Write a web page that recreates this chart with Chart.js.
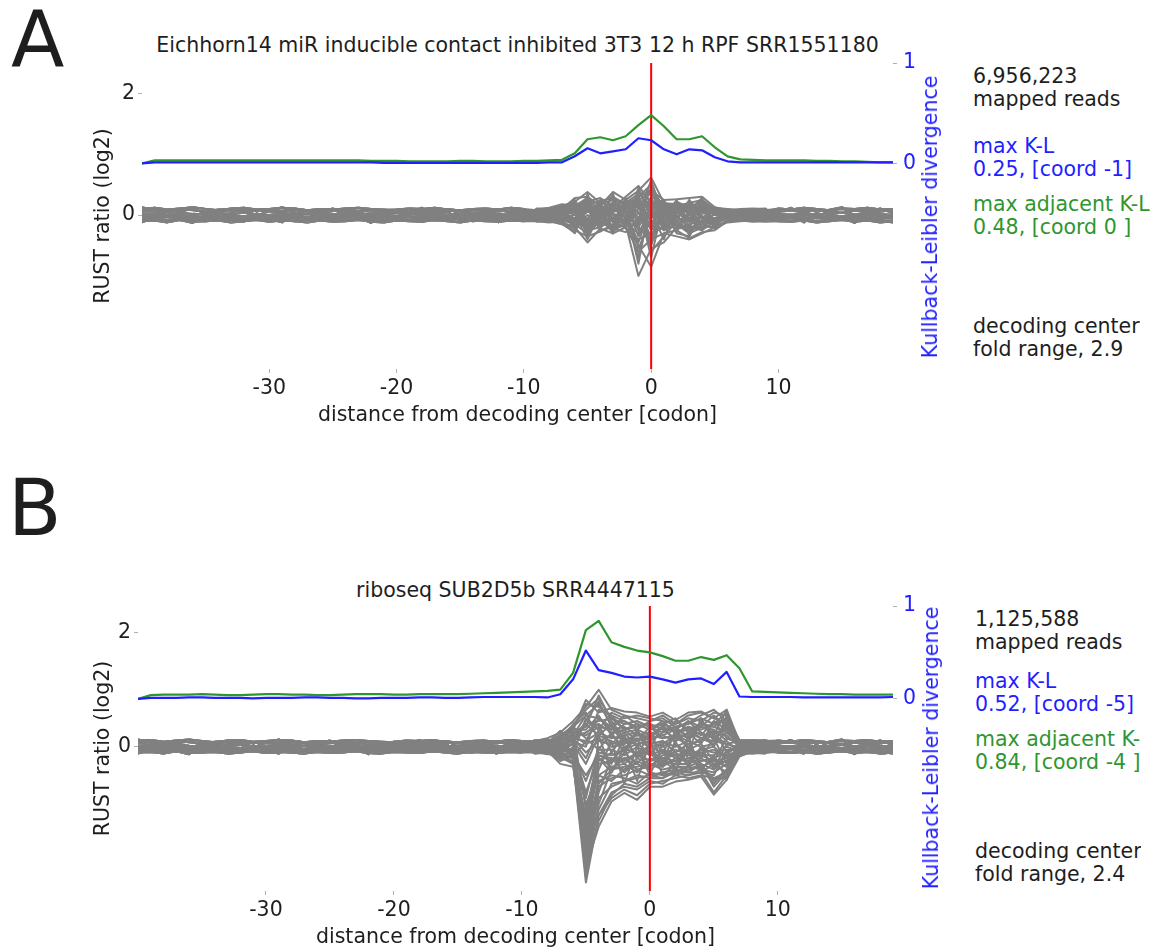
<!DOCTYPE html>
<html>
<head>
<meta charset="utf-8">
<script src="https://cdn.jsdelivr.net/npm/chart.js"></script>
<style>
  body { margin: 0; width: 1156px; height: 947px; overflow: hidden; background: #fff; font-family: "DejaVu Sans", sans-serif; color: #1e1e1e; }
  canvas { position: absolute; left: 0; }
  .tag { position: absolute; font-size: 78px; line-height: 78px; }
  .title { position: absolute; font-size: 20.5px; line-height: 24px; text-align: center; white-space: nowrap; }
  .kl-title { position: absolute; font-size: 20.5px; line-height: 24px; color: #1f1fff; white-space: nowrap; transform: translate(-50%, -50%) rotate(-90deg); }
  .side { position: absolute; font-size: 20.5px; line-height: 23px; white-space: pre; overflow: hidden; }
  .blue { color: #1f1fff; }
  .green { color: #2f962f; }
</style>
</head>
<body>

<div class="tag" style="left:11px; top:1px;">A</div>
<div class="title" style="left:142px; width:751px; top:33px;">Eichhorn14 miR inducible contact inhibited 3T3 12 h RPF SRR1551180</div>
<canvas id="chartA" width="960" height="440" style="top:0px;"></canvas>
<div class="kl-title" style="left:930px; top:217px;">Kullback-Leibler divergence</div>
<div class="side" style="left:973px; top:65px;">6,956,223
mapped reads</div>
<div class="side blue" style="left:973px; top:135px;">max K-L
0.25, [coord -1]</div>
<div class="side green" style="left:973px; top:193px;">max adjacent K-L
0.48, [coord 0 ]</div>
<div class="side" style="left:973px; top:315px;">decoding center
fold range, 2.9</div>

<div class="tag" style="left:8px; top:469px;">B</div>
<div class="title" style="left:138px; width:755px; top:578px;">riboseq SUB2D5b SRR4447115</div>
<canvas id="chartB" width="960" height="420" style="top:543px;"></canvas>
<div class="kl-title" style="left:931px; top:748px;">Kullback-Leibler divergence</div>
<div class="side" style="left:975px; top:608px; width:166px;">1,125,588
mapped reads</div>
<div class="side blue" style="left:975px; top:670px; width:166px;">max K-L
0.52, [coord -5]</div>
<div class="side green" style="left:975px; top:728px; width:166px;">max adjacent K-L
0.84, [coord -4 ]</div>
<div class="side" style="left:975px; top:840px; width:166px;">decoding center
fold range, 2.4</div>

<script>
// codon positions relative to the decoding center
const codons = [-40,-39,-38,-37,-36,-35,-34,-33,-32,-31,-30,-29,-28,-27,-26,-25,-24,-23,-22,-21,
  -20,-19,-18,-17,-16,-15,-14,-13,-12,-11,-10,-9,-8,-7,-6,-5,-4,-3,-2,-1,
  0,1,2,3,4,5,6,7,8,9,10,11,12,13,14,15,16,17,18,19];
const xTicks = [-30, -20, -10, 0, 10];
const rustTicks = [0, 2];
const klTicks = [0, 1];
const decodingCentre = 0;

// K-L divergence per position (blue) and adjacent K-L (green)
const klA = [0.00,
  0.01,0.01,0.01,0.01,0.01,0.01,0.01,0.01,0.01,0.01,0.01,0.01,0.01,0.01,0.01,0.01,0.01,0.01,0.005,0.005,
  0.005,0.005,0.005,0.005,0.005,0.005,0.005,0.005,0.005,0.005,
  0.005,0.01,0.01,0.07,0.15,0.10,0.12,0.14,0.25,0.23,0.14,0.09,0.14,0.13,0.06,0.02,0.01,0.01,0.01,
  0.01,0.01,0.01,0.01,0.01,0.01,0.01,0.01,0.01,0.01];
const adjKlA = [0.00,
  0.03,0.03,0.03,0.03,0.03,0.03,0.03,0.03,0.03,0.03,0.03,0.03,0.03,0.03,0.03,0.03,0.03,0.025,0.025,0.025,
  0.02,0.02,0.02,0.02,0.025,0.025,0.02,0.02,0.02,0.025,
  0.025,0.03,0.035,0.10,0.24,0.26,0.23,0.27,0.38,0.48,0.37,0.24,0.24,0.27,0.16,0.07,0.04,0.035,0.03,
  0.03,0.03,0.03,0.025,0.025,0.02,0.02,0.015,0.01,0.01];
const klB = [0.00,
  0.01,0.01,0.01,0.015,0.015,0.01,0.01,0.01,0.005,0.01,0.01,0.01,0.015,0.015,0.01,0.01,0.005,0.005,0.01,0.01,
  0.01,0.015,0.015,0.01,0.01,0.015,0.02,0.02,0.02,0.02,
  0.02,0.015,0.05,0.21,0.52,0.31,0.28,0.24,0.23,0.24,0.21,0.175,0.21,0.22,0.16,0.29,0.025,0.02,0.02,
  0.02,0.02,0.015,0.015,0.015,0.015,0.015,0.015,0.015,0.02];
const adjKlB = [0.00,
  0.04,0.045,0.045,0.045,0.05,0.045,0.04,0.04,0.045,0.05,0.05,0.045,0.045,0.04,0.04,0.045,0.05,0.05,0.05,0.045,
  0.045,0.05,0.05,0.05,0.05,0.055,0.06,0.065,0.07,0.075,
  0.08,0.085,0.10,0.28,0.74,0.84,0.61,0.56,0.52,0.50,0.46,0.41,0.41,0.45,0.42,0.47,0.33,0.08,0.075,
  0.07,0.065,0.06,0.055,0.05,0.05,0.045,0.045,0.045,0.045];

// RUST ratio (log2) of codons, flanks -40..-10 and 10..19
const flankLeft = [
  [0.10,0.12,0.09,0.11,0.13,0.10,0.08,0.11,0.12,0.09,0.10,0.12,0.11,0.08,0.10,0.09,0.11,0.12,0.10,0.08,0.09,0.11,0.10,0.12,0.09,0.08,0.10,0.11,0.09,0.12,0.10],
  [0.06,0.08,0.05,0.07,0.09,0.04,0.06,0.08,0.05,0.07,0.06,0.05,0.08,0.06,0.04,0.07,0.05,0.06,0.08,0.05,0.07,0.04,0.06,0.05,0.07,0.06,0.04,0.05,0.07,0.06,0.08],
  [0.02,0.03,0.00,0.04,0.02,0.01,0.03,0.02,0.04,0.01,0.00,0.03,0.02,0.01,0.03,0.02,0.00,0.01,0.03,0.02,0.04,0.01,0.02,0.03,0.00,0.02,0.01,0.03,0.02,0.00,0.03],
  [-0.02,-0.01,-0.03,0.00,-0.02,-0.04,-0.01,-0.03,-0.02,0.00,-0.03,-0.01,-0.02,-0.04,-0.01,-0.03,-0.02,0.00,-0.01,-0.03,-0.02,-0.04,-0.01,-0.02,-0.03,0.00,-0.02,-0.01,-0.03,-0.02,-0.01],
  [-0.06,-0.05,-0.08,-0.04,-0.07,-0.06,-0.05,-0.08,-0.06,-0.04,-0.07,-0.05,-0.06,-0.08,-0.05,-0.07,-0.06,-0.04,-0.06,-0.07,-0.05,-0.08,-0.06,-0.05,-0.07,-0.04,-0.06,-0.05,-0.07,-0.06,-0.05],
  [-0.10,-0.09,-0.12,-0.08,-0.11,-0.10,-0.09,-0.12,-0.10,-0.08,-0.11,-0.09,-0.10,-0.12,-0.09,-0.11,-0.10,-0.08,-0.11,-0.12,-0.09,-0.10,-0.11,-0.08,-0.10,-0.12,-0.09,-0.10,-0.11,-0.09,-0.10],
  [0.13,0.08,-0.02,0.05,0.12,0.02,-0.06,0.04,0.10,-0.01,0.07,0.13,0.03,-0.05,0.06,0.11,-0.03,0.04,0.09,0.00,-0.07,0.05,0.12,0.01,-0.04,0.08,0.02,-0.06,0.10,0.03,0.06],
  [-0.12,-0.04,0.06,-0.08,-0.13,0.01,0.08,-0.05,-0.11,0.03,-0.07,-0.12,0.02,0.07,-0.06,-0.10,0.04,-0.02,-0.13,0.05,0.09,-0.03,-0.11,0.00,0.06,-0.09,-0.01,0.08,-0.12,-0.04,-0.07],
  [0.08,0.09,0.07,0.10,0.08,0.06,0.09,0.10,0.07,0.08,0.09,0.07,0.10,0.08,0.06,0.08,0.09,0.07,0.10,0.09,0.08,0.06,0.09,0.08,0.10,0.07,0.08,0.09,0.06,0.08,0.09],
  [0.00,-0.01,0.01,-0.02,0.00,0.02,-0.01,0.00,-0.02,0.01,0.00,-0.01,0.01,0.02,-0.01,0.00,0.01,-0.02,0.00,0.01,-0.01,0.02,0.00,-0.01,0.01,-0.02,0.00,0.01,-0.01,0.02,0.00],
  [-0.04,-0.05,-0.03,-0.06,-0.04,-0.02,-0.05,-0.04,-0.06,-0.03,-0.05,-0.04,-0.02,-0.05,-0.06,-0.03,-0.04,-0.05,-0.03,-0.06,-0.04,-0.02,-0.05,-0.04,-0.03,-0.06,-0.04,-0.05,-0.02,-0.04,-0.03],
  [-0.08,-0.07,-0.09,-0.06,-0.08,-0.10,-0.07,-0.08,-0.09,-0.06,-0.08,-0.07,-0.10,-0.08,-0.06,-0.09,-0.08,-0.07,-0.09,-0.10,-0.07,-0.08,-0.06,-0.09,-0.08,-0.07,-0.10,-0.08,-0.09,-0.07,-0.08]
];
const flankRight = [
  [0.11,0.09,0.12,0.10,0.08,0.11,0.10,0.12,0.09,0.10],
  [0.06,0.07,0.05,0.08,0.06,0.04,0.07,0.05,0.06,0.08],
  [0.02,0.00,0.03,0.01,0.02,0.04,0.01,0.03,0.02,0.00],
  [-0.02,-0.03,0.00,-0.01,-0.04,-0.02,-0.03,-0.01,0.00,-0.02],
  [-0.06,-0.04,-0.07,-0.05,-0.06,-0.08,-0.05,-0.07,-0.04,-0.06],
  [-0.10,-0.11,-0.09,-0.12,-0.10,-0.08,-0.11,-0.09,-0.12,-0.10],
  [0.05,0.12,0.02,-0.05,0.09,0.13,-0.02,0.06,0.11,0.03],
  [-0.08,-0.01,-0.12,0.04,-0.10,-0.03,-0.13,0.02,-0.09,-0.12],
  [0.08,0.07,0.09,0.06,0.08,0.10,0.07,0.09,0.08,0.07],
  [0.00,0.01,-0.01,0.02,0.00,-0.02,0.01,0.00,-0.01,0.01],
  [-0.04,-0.03,-0.05,-0.02,-0.04,-0.06,-0.03,-0.05,-0.04,-0.03],
  [-0.08,-0.09,-0.07,-0.10,-0.08,-0.06,-0.09,-0.07,-0.08,-0.10]
];

// RUST ratio (log2) of codons around the decoding center, -9..9
const rustCentreA = [
  [0.08,0.10,0.15,0.22,0.38,0.20,0.30,0.18,0.25,0.35,0.15,0.12,0.20,0.25,0.10,0.06,0.09,0.10,0.08],
  [-0.05,-0.08,-0.12,-0.20,-0.45,-0.22,-0.30,-0.20,-0.60,-0.40,-0.30,-0.25,-0.38,-0.28,-0.25,-0.10,-0.06,-0.08,-0.05],
  [0.03,0.05,0.10,0.28,0.30,0.15,0.38,0.25,0.40,0.62,0.20,0.18,0.10,0.15,0.05,0.02,0.04,0.03,0.05],
  [-0.02,0.00,-0.08,-0.15,-0.30,-0.10,-0.25,-0.15,-1.00,-0.55,-0.45,-0.20,-0.15,-0.10,-0.05,-0.03,-0.02,0.00,-0.03],
  [0.10,0.12,0.18,0.15,0.20,0.22,0.12,0.30,0.48,0.20,0.25,0.26,0.28,0.30,0.13,0.08,0.10,0.11,0.09],
  [-0.10,-0.12,-0.10,-0.25,-0.35,-0.27,-0.15,-0.10,-0.50,-0.85,-0.30,-0.35,-0.40,-0.30,-0.20,-0.12,-0.10,-0.09,-0.11],
  [0.05,0.04,0.12,0.05,0.25,0.10,0.20,0.10,0.30,0.50,0.10,0.05,0.15,0.20,0.08,0.05,0.06,0.04,0.06],
  [-0.06,-0.07,-0.05,-0.10,-0.20,-0.05,-0.10,-0.22,-0.40,-0.30,-0.20,-0.10,-0.25,-0.15,-0.22,-0.08,-0.06,-0.05,-0.07],
  [0.00,0.02,0.05,0.10,0.15,0.05,0.08,0.15,0.20,-0.20,0.05,0.10,0.05,0.12,0.05,0.03,0.01,0.02,0.00],
  [-0.03,-0.01,-0.05,-0.08,-0.10,-0.15,-0.05,-0.08,0.10,0.40,-0.10,-0.05,-0.10,-0.05,-0.08,-0.05,-0.03,-0.02,-0.04],
  [0.06,0.08,0.08,0.18,0.10,0.18,0.25,0.05,-0.20,0.15,0.18,0.15,0.20,0.10,0.12,0.07,0.05,0.07,0.06],
  [-0.08,-0.06,-0.12,-0.05,-0.25,-0.20,-0.08,-0.12,-0.30,0.10,-0.15,-0.22,-0.20,-0.25,-0.10,-0.06,-0.07,-0.08,-0.06],
  [0.02,0.03,-0.02,0.12,0.05,0.10,-0.10,0.20,0.35,-0.50,0.12,0.05,0.22,0.05,0.02,0.01,0.03,0.02,0.01],
  [-0.01,0.01,0.06,-0.12,0.20,-0.15,0.15,-0.05,-0.15,0.25,-0.05,0.08,-0.12,0.18,-0.12,-0.02,0.00,-0.01,-0.02],
  [0.09,0.06,0.02,0.20,-0.15,0.12,0.05,0.12,0.05,-0.35,0.15,0.20,0.00,0.10,0.05,0.09,0.08,0.10,0.09],
  [-0.09,-0.10,-0.15,-0.18,0.10,-0.25,-0.20,-0.05,0.20,-0.10,-0.25,-0.15,-0.30,-0.20,-0.18,-0.10,-0.09,-0.10,-0.08],
  [0.04,0.06,0.12,0.08,0.30,0.05,0.28,0.15,-0.10,0.45,0.08,0.15,0.10,0.25,0.06,0.04,0.05,0.06,0.04],
  [-0.04,-0.03,-0.08,0.02,-0.40,0.05,-0.25,-0.10,0.25,-0.60,-0.35,-0.10,-0.28,-0.08,-0.15,-0.04,-0.05,-0.03,-0.04],
  [0.07,0.05,0.00,-0.05,0.15,0.10,0.10,0.25,-0.05,0.30,0.20,-0.05,0.15,0.05,0.10,0.06,0.07,0.05,0.08],
  [-0.07,-0.05,0.02,0.10,-0.15,-0.08,-0.18,0.05,0.15,-0.25,0.00,-0.20,0.05,-0.20,-0.05,-0.07,-0.06,-0.07,-0.05],
  [0.01,-0.02,0.10,-0.10,0.05,0.18,-0.05,-0.15,0.40,0.05,-0.12,0.12,-0.05,0.08,-0.08,0.01,0.02,-0.01,0.02],
  [0.05,0.07,-0.10,0.15,0.28,-0.12,0.12,0.08,-0.70,0.20,0.10,-0.10,0.25,-0.05,0.10,0.05,0.04,0.06,0.05],
  [-0.05,-0.04,0.05,-0.22,-0.05,0.15,-0.12,-0.20,0.05,-0.45,0.15,0.05,-0.05,0.15,0.00,-0.06,-0.04,-0.05,-0.06],
  [0.11,0.09,0.15,0.05,-0.25,0.22,0.30,-0.08,0.10,0.55,-0.20,0.22,0.12,-0.15,0.12,0.10,0.08,0.10,0.11],
  [-0.11,-0.09,-0.15,-0.28,0.35,-0.22,0.05,0.20,-0.25,-0.15,0.10,-0.30,-0.35,0.10,-0.22,-0.10,-0.09,-0.11,-0.10],
  [0.00,0.01,0.03,0.05,-0.30,0.02,-0.30,0.10,-0.80,0.30,-0.20,0.02,0.18,-0.25,0.04,0.00,0.01,0.00,-0.01],
  [0.03,0.00,-0.05,-0.10,0.12,-0.18,0.18,-0.18,0.20,-0.70,0.22,-0.15,-0.20,0.22,-0.15,0.02,0.01,0.03,0.02],
  [-0.02,-0.04,0.08,0.25,-0.10,0.08,-0.20,0.22,-0.35,0.05,-0.40,0.18,-0.10,-0.12,0.10,-0.02,-0.03,-0.02,-0.01],
  [0.06,0.03,-0.12,-0.30,0.22,-0.05,0.35,-0.22,0.45,-0.05,0.05,-0.28,0.08,0.28,-0.20,0.05,0.04,0.05,0.07],
  [-0.06,-0.02,0.12,0.18,-0.20,0.15,-0.30,0.28,-0.15,0.58,-0.08,0.25,-0.35,0.02,0.08,-0.06,-0.05,-0.04,-0.06],
  [0.04,0.02,0.06,0.14,0.22,0.28,0.15,0.22,0.12,0.25,0.05,0.20,0.15,0.08,0.10,0.04,0.03,0.05,0.04],
  [-0.04,-0.06,-0.02,-0.15,-0.12,-0.10,-0.22,-0.28,-0.05,-0.20,-0.12,0.00,-0.22,-0.12,-0.15,-0.05,-0.04,-0.03,-0.05],
  [0.02,0.04,-0.04,0.08,-0.08,0.25,0.02,-0.02,0.28,-0.12,0.10,0.12,-0.08,0.25,0.00,0.03,0.02,0.04,0.03],
  [-0.03,0.00,0.04,-0.05,0.12,-0.12,0.10,0.05,-0.45,0.15,-0.25,-0.02,0.10,-0.05,-0.10,-0.02,-0.01,-0.02,-0.03],
  [0.07,0.05,0.09,0.00,0.18,0.00,-0.18,0.18,0.30,0.40,0.25,-0.12,0.02,0.18,0.00,0.06,0.05,0.07,0.06],
  [-0.07,-0.08,-0.06,0.12,-0.28,0.18,0.00,-0.12,-0.20,-0.40,0.05,0.10,-0.18,-0.22,0.05,-0.07,-0.06,-0.08,-0.07],
  [0.01,0.03,0.00,-0.18,0.00,-0.08,0.22,0.02,0.15,0.20,-0.15,0.05,0.20,-0.02,-0.05,0.02,0.00,0.01,0.02],
  [-0.01,-0.03,0.02,0.22,-0.35,0.10,-0.05,0.12,-0.55,-0.05,0.18,-0.18,0.00,0.12,0.05,-0.01,-0.02,-0.01,0.00]
];
const rustCentreB = [
  [0.10,0.15,0.25,0.45,0.70,1.00,0.65,0.55,0.50,0.45,0.55,0.40,0.50,0.45,0.60,0.55,0.10,0.12,0.10],
  [-0.08,-0.12,-0.20,-0.25,-2.38,-1.20,-0.90,-0.75,-0.85,-0.65,-0.60,-0.55,-0.50,-0.45,-0.80,-0.50,-0.15,-0.10,-0.12],
  [0.05,0.10,0.15,0.30,0.82,0.60,0.68,0.62,0.60,0.53,0.60,0.47,0.60,0.62,0.50,0.65,0.08,0.05,0.08],
  [-0.05,-0.08,-0.15,-0.20,-2.10,-1.40,-0.96,-0.81,-0.93,-0.70,-0.70,-0.61,-0.58,-0.52,-0.84,-0.58,-0.17,-0.08,-0.06],
  [0.12,0.08,0.20,0.35,0.55,0.75,0.40,0.45,0.35,0.40,0.30,0.35,0.42,0.55,0.65,0.45,0.05,0.10,0.11],
  [-0.10,-0.06,-0.25,-0.15,-1.80,-0.90,-0.70,-0.60,-0.50,-0.55,-0.45,-0.40,-0.45,-0.30,-0.60,-0.40,-0.12,-0.11,-0.09],
  [0.02,0.05,0.10,0.20,0.40,0.45,0.50,0.30,0.40,0.30,0.45,0.25,0.35,0.30,0.40,0.60,0.02,0.04,0.03],
  [-0.03,-0.02,-0.10,-0.28,-1.60,-0.60,-0.50,-0.55,-0.65,-0.45,-0.50,-0.45,-0.35,-0.40,-0.45,-0.30,-0.10,-0.03,-0.04],
  [0.07,0.12,0.05,0.25,0.20,0.35,0.30,0.35,0.20,0.25,0.20,0.30,0.20,0.25,0.15,0.35,0.06,0.08,0.06],
  [-0.06,-0.04,-0.05,-0.10,-2.25,-1.00,-0.40,-0.35,-0.30,-0.40,-0.25,-0.30,-0.30,-0.20,-0.35,-0.25,-0.05,-0.06,-0.07],
  [0.00,0.03,0.12,0.15,0.10,0.25,0.15,0.20,0.25,0.15,0.20,0.10,0.25,0.15,0.25,0.20,0.00,0.02,0.01],
  [0.04,-0.05,-0.08,0.05,-1.40,-0.30,-0.25,-0.20,-0.15,-0.25,-0.20,-0.15,-0.10,-0.25,-0.20,-0.10,0.03,0.00,0.02],
  [-0.02,0.06,0.08,0.40,0.60,0.10,0.05,0.10,0.05,0.10,0.00,0.15,0.05,0.10,0.20,0.05,-0.02,0.01,-0.01],
  [0.09,0.02,-0.12,-0.30,-1.20,-0.10,-0.15,-0.05,-0.10,0.00,-0.10,-0.05,-0.15,-0.05,-0.10,-0.15,0.08,0.07,0.09],
  [-0.12,-0.10,0.05,0.10,0.45,0.80,0.35,0.25,0.30,0.20,0.35,0.25,0.15,0.35,0.30,0.10,-0.10,-0.12,-0.10],
  [0.06,0.00,-0.02,-0.15,-1.00,-0.50,-0.60,-0.40,-0.35,-0.30,-0.40,-0.35,-0.40,-0.30,-0.70,-0.45,0.05,0.06,0.04],
  [-0.04,-0.09,0.18,0.30,0.30,0.55,0.20,0.40,0.45,0.35,0.25,0.45,0.30,0.40,0.35,0.50,-0.03,-0.05,-0.04],
  [0.03,0.09,-0.18,-0.05,-0.80,-0.20,-0.35,-0.30,-0.45,-0.20,-0.30,-0.25,-0.20,-0.35,-0.25,-0.35,0.04,0.03,0.02],
  [0.11,0.13,0.00,0.20,0.05,0.15,0.00,0.05,0.15,0.05,0.10,0.00,0.10,0.00,0.05,0.25,0.12,0.10,0.12],
  [-0.09,-0.13,0.08,-0.10,-0.60,-0.05,-0.05,-0.15,0.00,-0.15,-0.05,-0.20,-0.05,-0.15,-0.15,0.00,-0.08,-0.10,-0.11],
  [0.01,0.04,0.22,0.25,0.35,0.90,0.45,0.15,0.10,0.20,0.15,0.20,0.35,0.20,0.45,0.30,0.02,0.01,0.03],
  [-0.01,-0.03,-0.22,0.00,-1.90,-0.80,-0.20,-0.45,-0.25,-0.35,-0.15,-0.10,-0.25,-0.10,-0.05,-0.20,-0.01,-0.02,0.00],
  [0.08,0.11,0.02,0.35,0.15,-0.05,0.25,-0.10,0.30,-0.05,0.40,0.05,-0.10,0.50,0.10,0.40,0.09,0.08,0.07],
  [-0.07,-0.11,0.15,-0.20,-1.50,-0.40,0.10,-0.65,0.00,-0.50,0.05,-0.45,0.20,-0.45,-0.50,-0.05,-0.06,-0.07,-0.08],
  [0.05,0.01,-0.06,0.18,0.25,0.40,-0.10,0.20,-0.20,0.30,-0.30,0.30,-0.05,0.05,-0.25,0.15,0.06,0.05,0.04],
  [-0.05,-0.01,0.10,-0.22,-2.00,0.20,-0.45,0.00,-0.60,0.10,-0.50,-0.30,0.00,-0.20,0.15,-0.30,-0.04,-0.05,-0.06],
  [0.10,0.06,0.28,0.10,0.00,0.65,0.55,0.30,0.35,0.40,0.30,0.15,0.45,0.25,0.00,0.55,0.12,0.11,0.10],
  [-0.11,-0.07,-0.30,-0.35,-1.70,-1.20,-0.80,-0.70,-0.75,-0.60,-0.65,-0.50,-0.55,-0.50,-0.55,-0.55,-0.12,-0.10,-0.09],
  [0.02,-0.02,0.00,0.05,-0.30,0.20,0.10,-0.05,0.05,-0.10,0.10,-0.10,0.05,0.10,0.30,-0.10,0.00,0.02,0.01],
  [-0.03,0.05,-0.04,0.12,-0.90,0.00,-0.30,0.15,-0.20,0.05,-0.35,0.10,-0.35,0.00,-0.40,0.05,-0.02,-0.03,-0.02],
  [0.04,0.08,0.14,-0.12,0.50,0.30,0.60,0.50,0.55,0.50,0.45,0.40,0.55,0.60,0.50,0.40,0.05,0.04,0.05],
  [-0.04,-0.10,-0.14,0.08,-2.30,-0.70,-0.55,-0.50,-0.40,-0.50,-0.55,-0.40,-0.45,-0.45,-0.30,-0.45,-0.04,-0.05,-0.03],
  [0.00,-0.06,0.06,-0.18,0.10,0.50,0.35,0.05,0.25,0.10,0.25,0.35,0.15,0.45,0.20,0.65,0.01,0.00,-0.01],
  [0.07,0.02,-0.16,0.28,-1.10,-0.25,-0.10,-0.30,-0.10,-0.10,-0.20,-0.25,-0.10,-0.40,-0.15,-0.58,0.07,0.06,0.08],
  [0.06,0.10,0.18,0.38,0.65,0.85,0.50,0.40,0.45,0.35,0.40,0.30,0.45,0.35,0.55,0.35,0.08,0.06,0.05],
  [-0.06,-0.12,-0.18,-0.30,-1.95,-1.10,-0.65,-0.60,-0.55,-0.50,-0.45,-0.50,-0.40,-0.35,-0.65,-0.40,-0.10,-0.07,-0.05],
  [0.03,0.07,0.10,0.15,0.25,0.40,0.25,0.30,0.10,0.35,0.15,0.20,0.10,0.40,0.35,0.25,0.04,0.03,0.04],
  [-0.02,-0.07,-0.10,-0.20,-2.15,-0.50,-0.35,-0.40,-0.20,-0.30,-0.35,-0.20,-0.25,-0.15,-0.25,-0.20,-0.03,-0.02,-0.03],
  [0.08,0.03,0.12,0.22,0.40,0.20,0.40,0.10,0.20,0.15,0.35,0.10,0.25,0.05,0.45,0.15,0.07,0.09,0.08],
  [-0.08,-0.03,-0.12,-0.12,-1.30,-0.20,-0.45,-0.10,-0.30,-0.05,-0.25,-0.40,-0.05,-0.30,-0.40,-0.15,-0.07,-0.09,-0.08],
  [0.01,0.09,0.04,0.10,-0.20,0.30,0.05,0.25,0.00,0.20,-0.10,0.25,0.30,0.15,0.05,0.45,0.02,0.01,0.02],
  [-0.01,-0.09,-0.04,-0.08,-1.65,-0.15,-0.25,0.00,-0.15,-0.10,-0.35,0.05,-0.20,-0.10,-0.30,-0.25,-0.02,-0.01,-0.02],
  [0.05,0.00,0.20,0.32,0.75,0.70,0.55,0.45,0.30,0.45,0.50,0.35,0.40,0.50,0.40,0.50,0.05,0.04,0.06],
  [-0.05,0.00,-0.20,-0.25,-2.20,-1.30,-0.85,-0.65,-0.70,-0.55,-0.55,-0.45,-0.50,-0.40,-0.55,-0.45,-0.06,-0.05,-0.04],
  [0.10,0.05,-0.05,0.15,-0.10,0.10,0.20,0.00,0.10,0.00,0.05,0.20,0.00,0.15,0.10,0.05,0.10,0.09,0.11],
  [-0.10,-0.05,0.05,-0.15,-0.50,-0.15,-0.20,-0.25,-0.10,-0.25,-0.10,-0.15,-0.30,-0.05,0.00,-0.20,-0.09,-0.10,-0.10],
  [0.02,0.06,0.10,0.20,0.55,0.50,0.30,0.55,0.40,0.30,0.40,0.50,0.25,0.35,0.25,0.30,0.03,0.02,0.02],
  [-0.03,-0.06,-0.10,-0.05,-1.75,-0.65,-0.40,-0.20,-0.40,-0.35,-0.20,-0.35,-0.35,-0.25,-0.20,-0.35,-0.03,-0.04,-0.03]
];

const BLUE = "#1f1fff";
const GREEN = "#2f962f";
const GRAY = "#808080";
const TEXT = "#1e1e1e";
const FONT = { family: "DejaVu Sans", size: 20.5, lineHeight: 1.2 };

Chart.defaults.font.family = "DejaVu Sans";

function fixedTicks(values) {
  return scale => { scale.ticks = values.map(v => ({ value: v })); };
}

function drawPanel(canvasId, p) {
  const rustLines = p.centre.map((c, i) =>
    flankLeft[i % flankLeft.length].concat(c, flankRight[i % flankRight.length]));

  // first dataset is drawn on top
  const datasets = [
    { data: p.kl, yAxisID: "kl", borderColor: BLUE, borderWidth: 2.2 },
    { data: p.adj, yAxisID: "kl", borderColor: GREEN, borderWidth: 2.2 },
    { data: [{ x: decodingCentre, y: p.rustMin }, { x: decodingCentre, y: p.rustMax }],
      yAxisID: "rust", borderColor: "#ff0000", borderWidth: 2 }
  ];
  rustLines.forEach(r => datasets.push({ data: r, yAxisID: "rust", borderColor: GRAY, borderWidth: 2 }));

  const tickGrid = { drawOnChartArea: false, tickLength: 4, tickColor: "#b0b0b0", lineWidth: 1 };

  new Chart(document.getElementById(canvasId), {
    type: "line",
    data: { labels: codons, datasets: datasets },
    options: {
      responsive: false,
      animation: false,
      layout: { padding: { top: 63, left: 91, right: 22, bottom: p.bottomPad } },
      elements: {
        point: { radius: 0 },
        line: { tension: 0, borderJoinStyle: "round", fill: false }
      },
      plugins: { legend: { display: false }, tooltip: { enabled: false } },
      scales: {
        x: {
          type: "linear", min: -40, max: 19,
          afterBuildTicks: fixedTicks(xTicks),
          afterFit: s => { s.height = 59; },
          grid: tickGrid, border: { display: false },
          ticks: { font: FONT, color: TEXT, padding: 3, maxRotation: 0, autoSkip: false },
          title: { display: true, text: "distance from decoding center [codon]", font: FONT, color: TEXT, padding: 0 }
        },
        rust: {
          position: "left", min: p.rustMin, max: p.rustMax,
          afterBuildTicks: fixedTicks(rustTicks),
          afterFit: s => { s.width = p.axisWidth; },
          grid: tickGrid, border: { display: false },
          ticks: { font: FONT, color: TEXT, padding: 3 },
          title: { display: true, text: "RUST ratio (log2)", font: FONT, color: TEXT, padding: 0 }
        },
        kl: {
          position: "right", min: p.klMin, max: p.klMax,
          afterBuildTicks: fixedTicks(klTicks),
          afterFit: s => { s.width = 45; },
          grid: tickGrid, border: { display: false },
          ticks: { font: FONT, color: BLUE, padding: 6 }
        }
      }
    }
  });
}

drawPanel("chartA", { kl: klA, adj: adjKlA, centre: rustCentreA,
  rustMin: -2.53, rustMax: 2.5, klMin: -2.05, klMax: 1, axisWidth: 51, bottomPad: 12 });
drawPanel("chartB", { kl: klB, adj: adjKlB, centre: rustCentreB,
  rustMin: -2.53, rustMax: 2.47, klMin: -2.07, klMax: 1, axisWidth: 47, bottomPad: 13 });
</script>
</body>
</html>
